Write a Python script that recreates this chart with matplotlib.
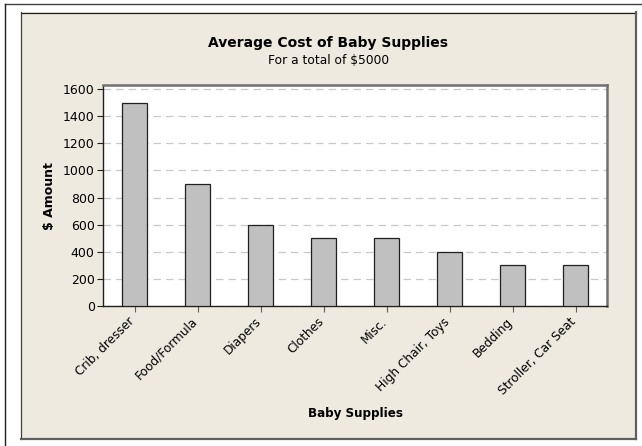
import matplotlib
matplotlib.use("Agg")
import matplotlib.pyplot as plt
from matplotlib.patches import Rectangle
from matplotlib.lines import Line2D

categories = ["Crib, dresser", "Food/Formula", "Diapers", "Clothes", "Misc.",
              "High Chair, Toys", "Bedding", "Stroller, Car Seat"]
amounts = [1500, 900, 600, 500, 500, 400, 300, 300]
y_ticks = [0, 200, 400, 600, 800, 1000, 1200, 1400, 1600]

W, H = 642, 446
BEIGE = "#EEEAE0"

plt.rcParams["font.family"] = ["DejaVu Sans"]

fig = plt.figure(figsize=(W / 100, H / 100), dpi=100)
fig.patch.set_facecolor("white")


def fx(px):
    return px / W


def fy(py):
    return 1 - py / H


# outer frame lines
fig.add_artist(Line2D([fx(5), 1], [fy(3.5), fy(3.5)], color="#404040", lw=1.0,
                      transform=fig.transFigure))
fig.add_artist(Line2D([fx(5.5), fx(5.5)], [fy(3.5), 0], color="#202020", lw=1.0,
                      transform=fig.transFigure))

# beige graph panel
fig.add_artist(Rectangle((fx(21), fy(439)), fx(636) - fx(21), fy(12) - fy(439),
                         facecolor=BEIGE, edgecolor="none",
                         transform=fig.transFigure, zorder=0))
fig.add_artist(Line2D([fx(21), fx(636)], [fy(12.5), fy(12.5)], color="#202020",
                      lw=0.9, transform=fig.transFigure))
fig.add_artist(Line2D([fx(21.5), fx(21.5)], [fy(12), fy(439)], color="#404040",
                      lw=0.9, transform=fig.transFigure))
fig.add_artist(Line2D([fx(21), fx(636)], [fy(439), fy(439)], color="#606060",
                      lw=1.6, transform=fig.transFigure))
fig.add_artist(Line2D([fx(636), fx(636)], [fy(12), fy(439)], color="#606060",
                      lw=1.6, transform=fig.transFigure))

ax = fig.add_axes([fx(103), fy(306), fx(607) - fx(103), fy(85) - fy(306)])
ax.set_facecolor("white")

x = list(range(len(categories)))
ax.bar(x, amounts, width=0.4, color="#C0C0C0", edgecolor="#202020",
       linewidth=0.9, zorder=3)

ax.set_xlim(-0.5, len(categories) - 0.5)
ax.set_ylim(0, 1630)
ax.set_yticks(y_ticks)
ax.set_yticklabels([str(v) for v in y_ticks], fontsize=9)
ax.set_xticks(x)
ax.set_xticklabels([])

# rotated category labels, hanging from the x tick marks
for xi, name in zip(x, categories):
    ax.annotate(name, xy=(xi, 0), xycoords=ax.get_xaxis_transform(),
                xytext=(-4.5, -6.5), textcoords="offset points",
                rotation=45, ha="right", va="top", rotation_mode="anchor",
                fontsize=8.7, annotation_clip=False)

ax.yaxis.grid(True, color="#C8C8C8", linestyle=(0, (6, 4)), linewidth=0.9,
              zorder=0)
ax.set_axisbelow(True)

ax.tick_params(axis="y", direction="out", length=4, width=0.8, color="#202020",
               pad=2)
ax.tick_params(axis="x", direction="out", length=4, width=0.8, color="#606060",
               pad=2)

for side in ("left", "bottom"):
    ax.spines[side].set_color("#202020")
    ax.spines[side].set_linewidth(1.0)
for side in ("top", "right"):
    ax.spines[side].set_color("#707070")
    ax.spines[side].set_linewidth(1.8)

fig.text(fx(328.5), fy(43), "Average Cost of Baby Supplies", ha="center",
         va="center", fontsize=10, fontweight="bold")
fig.text(fx(328.5), fy(61), "For a total of $5000", ha="center", va="center",
         fontsize=8.8)
fig.text(fx(49.5), fy(196), "$ Amount", ha="center", va="center", rotation=90,
         fontsize=9, fontweight="bold")
fig.text(fx(355), fy(413), "Baby Supplies", ha="center", va="center",
         fontsize=8.6, fontweight="bold")

fig.savefig("out.png", dpi=100, facecolor=fig.get_facecolor())
